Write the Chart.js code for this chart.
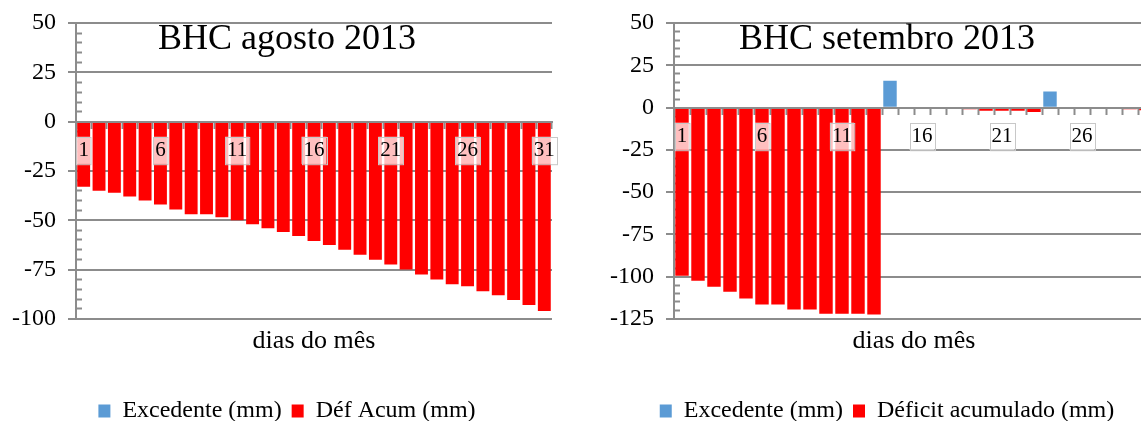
<!DOCTYPE html>
<html>
<head>
<meta charset="utf-8">
<script src="https://cdn.jsdelivr.net/npm/chart.js@4.4.0/dist/chart.umd.min.js"></script>
<style>
body { margin: 0; background: #fff; overflow: hidden; width: 1141px; height: 421px; position: relative; }
.box { position: absolute; top: 0; height: 421px; }
</style>
</head>
<body>
<div class="box" style="left:0;width:574px"><canvas id="chartAgo"></canvas></div>
<div class="box" style="left:570px;width:634px"><canvas id="chartSet"></canvas></div>
<script>
// agosto 2013
let diasAgo = ['1','2','3','4','5','6','7','8','9','10','11','12','13','14','15','16',
  '17','18','19','20','21','22','23','24','25','26','27','28','29','30','31'];
let excedenteAgo = [0,0,0,0,0,0,0,0,0,0,0,0,0,0,0,0,0,0,0,0,0,0,0,0,0,0,0,0,0,0,0];
let defAcumAgo = [-33,-35,-36,-38,-40,-42,-44.5,-47,-47,-48.5,-50,-52,-54,-56,-58,-60.5,
  -62.5,-65,-67.5,-70,-72.5,-75,-77.5,-80,-82.5,-83.5,-86,-88,-90.5,-93,-96];

// setembro 2013
let diasSet = ['1','2','3','4','5','6','7','8','9','10','11','12','13','14','15','16',
  '17','18','19','20','21','22','23','24','25','26','27','28','29','30'];
let excedenteSet = [0,0,0,0,0,0,0,0,0,0,0,0,0,16,0,0,0,0,0,0,0,0,0,9.5,0,0,0,0,0,0];
let defAcumSet = [-99.5,-102.5,-106,-109,-113,-116.5,-116.5,-119.5,-119.5,-122,-122,-122,-122.5,
  0,0,0,0,-0.5,-1,-1.8,-1.8,-1.8,-2.5,0,0,0,-0.3,-0.5,-1,-1.5];

const AZUL = '#5B9BD5';
const VERMELHO = '#FF0000';
const CINZA = '#8c8c8c';
const NADA = 'rgba(0,0,0,0)';

Chart.defaults.font.family = "'Liberation Serif', 'Times New Roman', serif";
Chart.defaults.color = '#000';

// thin frame around the day labels
const caixaRotulos = {
  id: 'caixaRotulos',
  afterDraw(chart) {
    const sc = chart.scales.x;
    const ctx = chart.ctx;
    ctx.save();
    ctx.strokeStyle = '#c8c8c8';
    ctx.lineWidth = 1;
    sc.getLabelItems().forEach(it => {
      const b = it.options.backdrop;
      if (!b || it.label === '') return;
      const t = it.options.translation;
      ctx.strokeRect(Math.round(t[0] + b.left) + 0.5, Math.round(t[1] + b.top) + 0.5, b.width, b.height);
    });
    ctx.restore();
  }
};

const ehMaior = ctx => ctx.tick && ctx.tick.value % 25 === 0;

function makeChart(id, titulo, dias, exc, def, nomeDef, yMin, larguraEixo, folgaDir) {
  let chartElement = document.getElementById(id).getContext('2d');
  return new Chart(chartElement, {
    type: 'bar',
    data: {
      labels: dias,
      datasets: [
        { label: 'Excedente (mm)', data: exc, backgroundColor: AZUL,
          barPercentage: 0.84, categoryPercentage: 1 },
        { label: nomeDef, data: def, backgroundColor: VERMELHO,
          barPercentage: 0.84, categoryPercentage: 1 }
      ]
    },
    options: {
      responsive: true,
      maintainAspectRatio: false,
      animation: false,
      layout: { padding: { left: 0, right: 0, top: 0, bottom: -12 } },
      plugins: {
        title: {
          display: true,
          text: titulo,
          font: { size: 36, weight: 'normal' },
          color: '#000',
          padding: { top: 18, bottom: -38 }
        },
        legend: {
          position: 'bottom',
          labels: { boxWidth: 12, boxHeight: 13, padding: 10, font: { size: 24 }, color: '#000' }
        },
        tooltip: { enabled: false }
      },
      scales: {
        x: {
          stacked: true,
          position: { y: 0 },
          grid: { display: true, drawOnChartArea: false, drawTicks: true, tickLength: 6,
                  tickColor: CINZA, tickWidth: 2, offset: true },
          border: { display: true, color: CINZA, width: 2, z: 1 },
          ticks: {
            z: 1,
            autoSkip: false,
            maxRotation: 0,
            padding: 10,
            font: { size: 21 },
            color: '#000',
            showLabelBackdrop: ctx => ctx.index % 5 === 0,
            backdropColor: 'rgba(255,255,255,0.75)',
            backdropPadding: { top: 1, bottom: 1, left: 2, right: 2 },
            callback: function (value, index) {
              return index % 5 === 0 ? this.getLabelForValue(value) : '';
            }
          }
        },
        x2: {
          type: 'category',
          position: 'bottom',
          grid: { display: false, drawTicks: false },
          border: { display: false },
          ticks: { display: false },
          title: { display: true, text: 'dias do mês', font: { size: 26 }, color: '#000',
                   padding: { top: 7, bottom: 32 } }
        },
        y: {
          stacked: true,
          min: yMin,
          max: 50,
          grid: {
            color: ctx => ehMaior(ctx) ? CINZA : NADA,
            lineWidth: 2,
            tickColor: ctx => ehMaior(ctx) ? CINZA : NADA,
            tickWidth: 2,
            tickLength: 8
          },
          border: { display: true, color: CINZA, width: 2 },
          ticks: {
            stepSize: 5,
            autoSkip: false,
            padding: 12,
            font: { size: 24 },
            color: '#000',
            callback: v => (v % 25 === 0 ? String(v) : '')
          },
          afterFit: scale => {
            scale.width = larguraEixo;
            scale.paddingTop = 0;
            scale.paddingBottom = 0;
          }
        },
        // minor tick marks, drawn inward from the value axis
        yMenor: {
          position: 'left',
          weight: -1,
          min: yMin,
          max: 50,
          grid: {
            drawOnChartArea: false,
            tickLength: -6,
            tickWidth: 2,
            tickColor: ctx => ehMaior(ctx) ? NADA : CINZA
          },
          border: { display: false },
          ticks: { stepSize: 5, autoSkip: false, callback: () => '' },
          afterFit: scale => {
            scale.width = 0;
            scale.paddingTop = 0;
            scale.paddingBottom = 0;
          }
        },
        // empty right-hand margin so the title stays centred on the whole chart
        yDir: {
          position: 'right',
          grid: { display: false, drawTicks: false },
          border: { display: false },
          ticks: { display: false },
          afterFit: scale => { scale.width = folgaDir; }
        }
      }
    },
    plugins: [caixaRotulos]
  });
}

makeChart('chartAgo', 'BHC agosto 2013', diasAgo, excedenteAgo, defAcumAgo, 'Déf Acum (mm)', -100, 76, 22);
makeChart('chartSet', 'BHC setembro 2013', diasSet, excedenteSet, defAcumSet, 'Déficit acumulado (mm)', -125, 104, 50);
</script>
</body>
</html>
